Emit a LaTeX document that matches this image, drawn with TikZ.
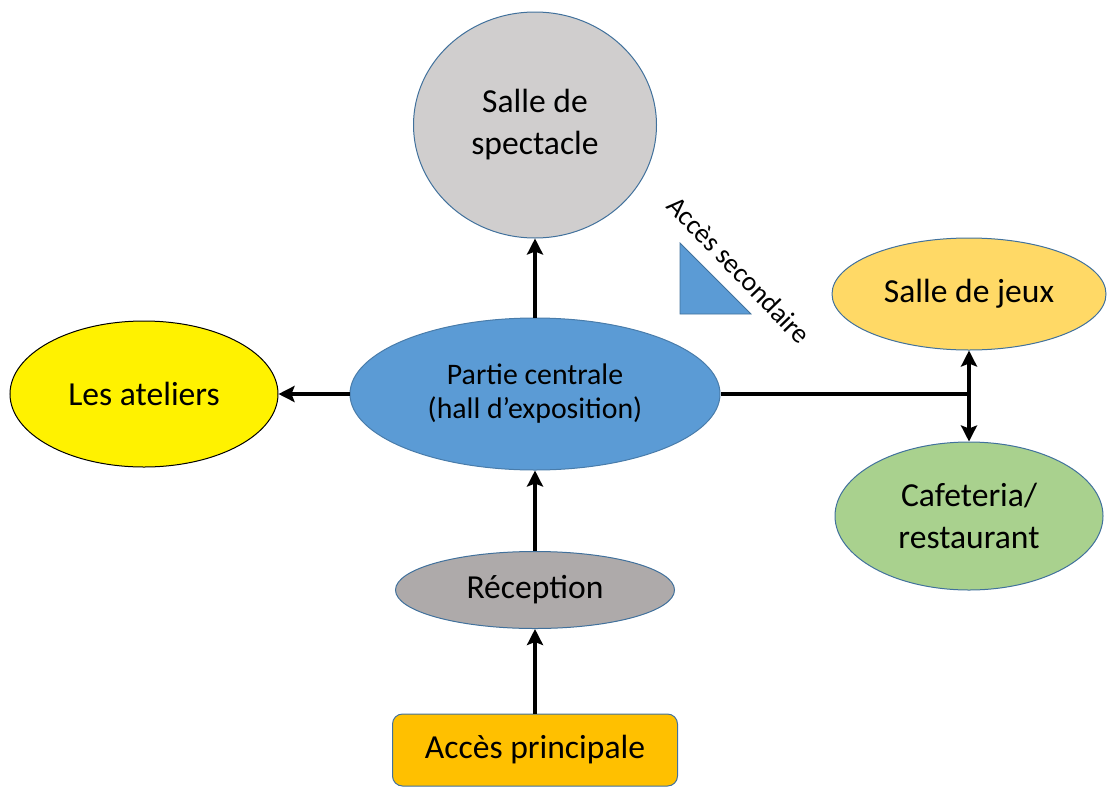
\documentclass[tikz,border=0pt]{standalone}
\usepackage{fontspec}
\setmainfont{Carlito}
\usetikzlibrary{shapes.geometric,arrows.meta}
\definecolor{edge}{HTML}{41719C}
\definecolor{hall}{HTML}{5B9BD5}
\definecolor{show}{HTML}{D0CECE}
\definecolor{games}{HTML}{FFD966}
\definecolor{food}{HTML}{A9D18E}
\definecolor{desk}{HTML}{AEAAAA}
\definecolor{entry}{HTML}{FFC000}

\begin{document}
\begin{tikzpicture}[x=0.5pt,y=-0.5pt,font=\fontsize{16.8}{21}\selectfont,
  >={Stealth[length=8pt,width=8pt,inset=1.5pt]}]
\tikzstyle{zone}=[ellipse,draw=edge,line width=0.5pt,inner sep=0pt,align=center]
\tikzstyle{flow}=[line width=2.2pt]
\useasboundingbox (0,0) rectangle (1107,787);

% the rooms
\node[zone,fill=hall,draw=hall!80!black,minimum width=185pt,minimum height=76pt,
  font=\fontsize{14.9}{17}\selectfont] (centrale) at (535,394) {Partie centrale\\(hall d'exposition)};
\node[zone,fill=show,minimum width=121.5pt,minimum height=113pt] (spectacle) at (535,125) {Salle de\\spectacle};
\node[zone,fill=yellow,draw=black,minimum width=134pt,minimum height=73pt] (ateliers) at (144,394) {Les ateliers};
\node[zone,fill=games,minimum width=137pt,minimum height=56pt] (jeux) at (969,294) {Salle de jeux};
\node[zone,fill=food,minimum width=134pt,minimum height=74pt] (cafe) at (969,516) {Cafeteria/\\restaurant};
\node[zone,fill=desk,minimum width=139.5pt,minimum height=38.5pt] (reception) at (535,590) {Réception};
\node[rectangle,rounded corners=5pt,draw=edge,line width=0.5pt,fill=entry,
  minimum width=142.5pt,minimum height=36pt] (acces) at (535,750) {Accès principale};

% side entrance
\filldraw[fill=hall,draw=edge,line width=0.4pt] (680,243) -- (680,314) -- (751,314) -- cycle;
\node[rotate=-46,font=\fontsize{13.8}{16}\selectfont] (secondaire) at (739,270) {Accès secondaire};

% links
\coordinate (fork) at (jeux |- centrale);
\draw[flow,->] (acces) -- (reception);
\draw[flow,->] (reception) -- (centrale);
\draw[flow,->] (centrale) -- (spectacle);
\draw[flow,->] (centrale) -- (ateliers);
\draw[flow] (centrale) -- (fork);
\draw[flow,<->] (jeux) -- (cafe);
\end{tikzpicture}
\end{document}
